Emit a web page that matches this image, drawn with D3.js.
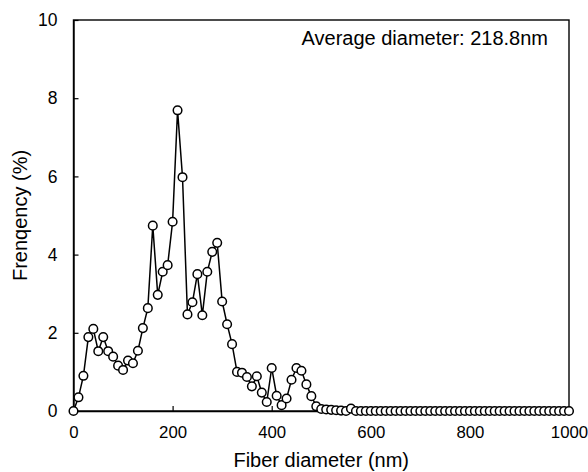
<!DOCTYPE html>
<html>
<head>
<meta charset="utf-8">
<script src="https://cdn.jsdelivr.net/npm/d3@7"></script>
<style>
body { margin: 0; background: #fff; }
text { font-family: Arial, "Liberation Sans", sans-serif; fill: #000; }
</style>
</head>
<body>
<svg id="chart"></svg>
<script>
// fiber diameter bins, 10 nm apart
var diameters = d3.range(0, 1001, 10)

var frequency = [
  0, 0.35, 0.9, 1.89, 2.1, 1.53, 1.89, 1.53, 1.39, 1.16,
  1.05, 1.29, 1.22, 1.54, 2.12, 2.63, 4.74, 2.97, 3.56, 3.73,
  4.84, 7.69, 5.98, 2.47, 2.78, 3.5, 2.45, 3.56, 4.07, 4.3,
  2.8, 2.22, 1.71, 1.0, 0.98, 0.87, 0.63, 0.89, 0.47, 0.23,
  1.1, 0.39, 0.15, 0.32, 0.8, 1.1, 1.03, 0.68, 0.38, 0.12,
  0.05, 0.04, 0.03, 0.02, 0.01, 0, 0.06, 0, 0, 0
]
while (frequency.length < diameters.length) frequency.push(0)

var xTicks = [0, 200, 400, 600, 800, 1000]
var yTicks = [0, 2, 4, 6, 8, 10]
var note = "Average diameter: 218.8nm"

var points = diameters.map(function(d, i){
  return {x: d, y: frequency[i]}
})

var screen = {width: 588, height: 472}
var margin = {left: 73.5, right: 19, top: 20, bottom: 61}
var width = screen.width - margin.left - margin.right
var height = screen.height - margin.top - margin.bottom

var svg = d3.select("#chart")
  .attr("width", screen.width)
  .attr("height", screen.height)

var xScale = d3.scaleLinear()
  .domain([0, 1000])
  .range([0, width])

var yScale = d3.scaleLinear()
  .domain([0, 10])
  .range([height, 0])

var g = svg.append("g")
  .attr("transform", "translate(" + margin.left + "," + margin.top + ")")

// frame
g.append("rect")
  .attr("width", width)
  .attr("height", height)
  .attr("fill", "none")
  .attr("stroke", "#000")
  .attr("stroke-width", 1.4)

var xAxis = d3.axisBottom(xScale)
  .tickValues(xTicks)
  .tickFormat(d3.format("d"))
  .tickSizeInner(-5)
  .tickSizeOuter(0)
  .tickPadding(15)

g.append("g")
  .attr("transform", "translate(0," + height + ")")
  .call(xAxis)
  .call(function(a){
    a.select(".domain").attr("stroke-width", 1.4)
    a.selectAll("line").attr("stroke-width", 1.2)
    a.selectAll("text").attr("font-size", 16.8).attr("font-family", "Arial, 'Liberation Sans', sans-serif")
  })

var yAxis = d3.axisLeft(yScale)
  .tickValues(yTicks)
  .tickSizeInner(-5)
  .tickSizeOuter(0)
  .tickPadding(16)

g.append("g")
  .call(yAxis)
  .call(function(a){
    a.select(".domain").attr("stroke-width", 1.4)
    a.selectAll("line").attr("stroke-width", 1.2)
    a.selectAll("text").attr("font-size", 17.5).attr("font-family", "Arial, 'Liberation Sans', sans-serif")
  })

var line = d3.line()
  .x(function(d){ return xScale(d.x) })
  .y(function(d){ return yScale(d.y) })

g.append("path")
  .datum(points)
  .attr("d", line)
  .attr("fill", "none")
  .attr("stroke", "#000")
  .attr("stroke-width", 1.5)

g.selectAll("circle")
  .data(points)
  .enter()
  .append("circle")
  .attr("cx", function(d){ return xScale(d.x) })
  .attr("cy", function(d){ return yScale(d.y) })
  .attr("r", 4.3)
  .attr("fill", "#fff")
  .attr("stroke", "#000")
  .attr("stroke-width", 1.5)

g.append("text")
  .attr("x", width - 21)
  .attr("y", 25)
  .attr("text-anchor", "end")
  .attr("font-size", 20)
  .text(note)

svg.append("text")
  .attr("x", margin.left + width / 2)
  .attr("y", 467)
  .attr("text-anchor", "middle")
  .attr("font-size", 20)
  .text("Fiber diameter (nm)")

svg.append("text")
  .attr("transform", "translate(27," + (margin.top + height / 2) + ") rotate(-90)")
  .attr("text-anchor", "middle")
  .attr("font-size", 20)
  .text("Frenqency (%)")
</script>
</body>
</html>
